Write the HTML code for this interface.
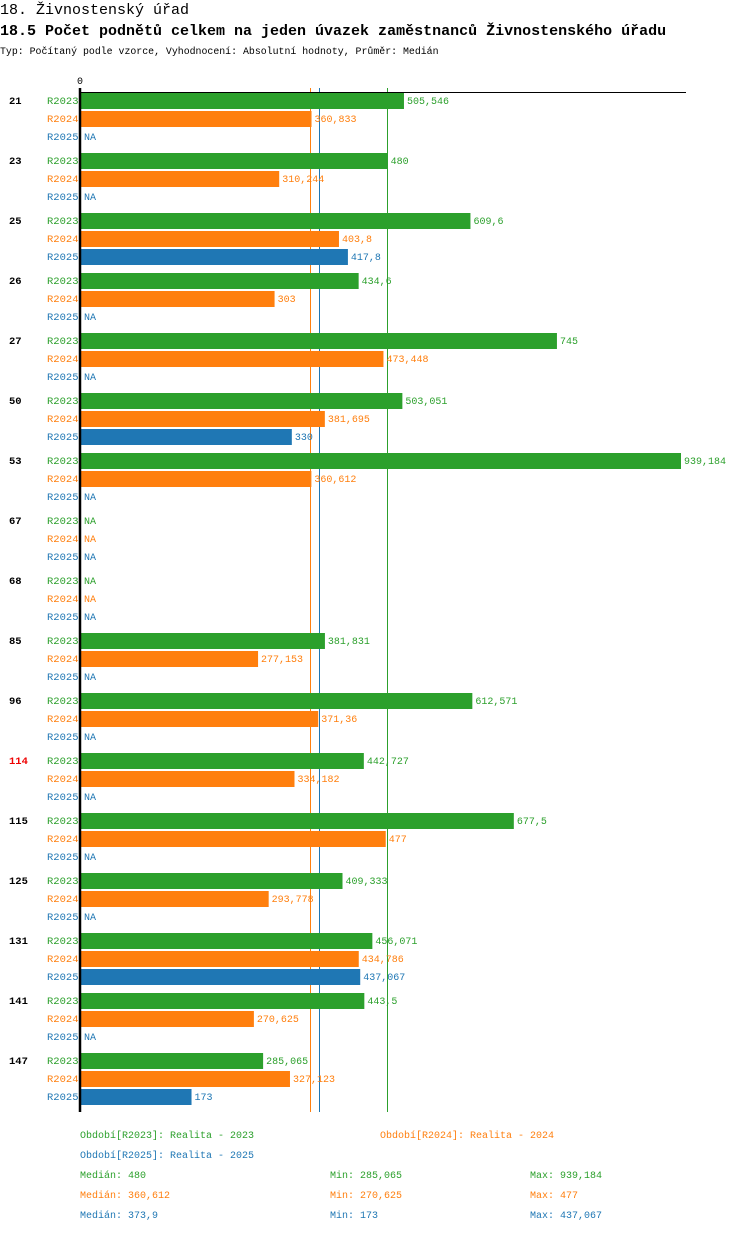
<!DOCTYPE html>
<html><head><meta charset="utf-8">
<style>
body{margin:0;background:#fff;width:750px;height:1232px;overflow:hidden}
svg text{font-family:"Liberation Mono","DejaVu Sans Mono",monospace}
</style></head>
<body>
<svg id="c" width="750" height="1232" xmlns="http://www.w3.org/2000/svg">
<text x="0" y="14" font-size="15">18. Živnostenský úřad</text>
<text x="0" y="35" font-size="15" font-weight="bold">18.5 Počet podnětů celkem na jeden úvazek zaměstnanců Živnostenského úřadu</text>
<text x="0" y="54" font-size="9.9">Typ: Počítaný podle vzorce, Vyhodnocení: Absolutní hodnoty, Průměr: Medián</text>
<g id="plot"></g>
<g id="legend"></g>
</svg>
<script>
const categories=["21","23","25","26","27","50","53","67","68","85","96","114","115","125","131","141","147"];
const r2023=[505.546,480,609.6,434.6,745,503.051,939.184,null,null,381.831,612.571,442.727,677.5,409.333,456.071,443.5,285.065];
const r2024=[360.833,310.244,403.8,303,473.448,381.695,360.612,null,null,277.153,371.36,334.182,477,293.778,434.786,270.625,327.123];
const r2025=[null,null,417.8,null,null,330,null,null,null,null,null,null,null,null,437.067,null,173];
const seriesNames=["R2023","R2024","R2025"];
const medians=[480,360.612,373.9];
const mins=["285,065","270,625","173"];
const maxs=["939,184","477","437,067"];
const colors=["#2ca02c","#ff7f0e","#1f77b4"];
const NS="http://www.w3.org/2000/svg";
const x0=81, scale=(681-81)/939.184;
const xs=v=>x0+v*scale;
const fmt=v=>String(v).replace('.',',');
const plot=document.getElementById('plot');
function mk(t,a,txt){const e=document.createElementNS(NS,t);for(const k in a)e.setAttribute(k,a[k]);if(txt!=null)e.textContent=txt;return e;}
const data=[r2023,r2024,r2025];
const top0=92;
let e=mk('text',{x:77,y:84,'font-size':10},'0');


plot.appendChild(e);
medians.forEach((m,j)=>{
  const px=Math.round(xs(m))-0.5;
  const l=mk('line',{x1:px,x2:px,y1:88,y2:1112,stroke:colors[j],'stroke-width':1,'shape-rendering':'crispEdges'});
  
  
  plot.appendChild(l);
});
categories.forEach((c,i)=>{
  const gy=top0+i*60;
  const lbl=mk('text',{x:9,y:gy+12,'font-size':10.5,'font-weight':'bold',fill:c==="114"?"#e00":"#000"},c);
  
  
  plot.appendChild(lbl);
  data.forEach((s,j)=>{
    const y=gy+1+j*18;
    const t=mk('text',{x:47,y:y+11,'font-size':10.5,fill:colors[j]},seriesNames[j]);
    
    
    plot.appendChild(t);
    const v=s[i];
    if(v!=null){
      const b=mk('rect',{x:x0,y:y,width:xs(v)-x0,height:16,fill:colors[j]});
      
      
      plot.appendChild(b);
    }
    const vt=mk('text',{x:(v!=null?xs(v):x0)+3,y:y+11,'font-size':10,fill:colors[j]},v!=null?fmt(v):'NA');
    
    
    plot.appendChild(vt);
  });
});
let ax=mk('line',{x1:80,x2:80,y1:88,y2:1112,stroke:'#000','stroke-width':2.5});


plot.appendChild(ax);
let tx=mk('line',{x1:80,x2:686,y1:92.5,y2:92.5,stroke:'#000','stroke-width':1});


plot.appendChild(tx);
const lg=document.getElementById('legend');
const legItems=[[80,1138,0,"Období[R2023]: Realita - 2023"],[380,1138,1,"Období[R2024]: Realita - 2024"],[80,1158,2,"Období[R2025]: Realita - 2025"]];
legItems.forEach(it=>{
  const t=mk('text',{x:it[0],y:it[1],'font-size':10,fill:colors[it[2]]},it[3]);
  
  
  lg.appendChild(t);
});
[0,1,2].forEach(j=>{
  const y=1178+j*20;
  const a=mk('text',{x:80,y:y,'font-size':10,fill:colors[j]},'Medián: '+fmt(medians[j]));
  
  
  lg.appendChild(a);
  const b=mk('text',{x:330,y:y,'font-size':10,fill:colors[j]},'Min: '+mins[j]);
  
  
  lg.appendChild(b);
  const c=mk('text',{x:530,y:y,'font-size':10,fill:colors[j]},'Max: '+maxs[j]);
  
  
  lg.appendChild(c);
});
</script>
</body></html>
